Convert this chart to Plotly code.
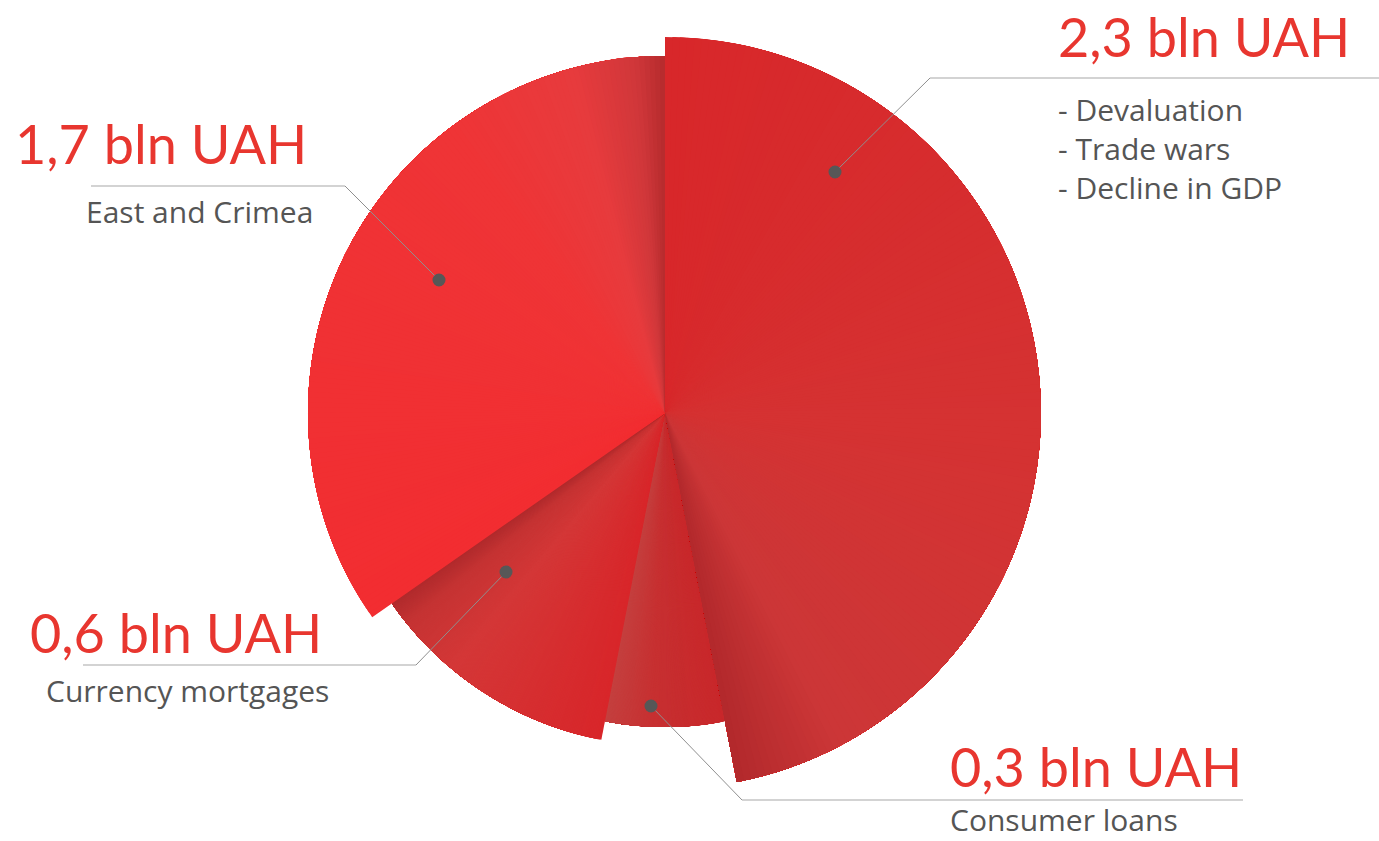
import plotly.graph_objects as go

# Data
values = [2.3, 0.3, 0.6, 1.7]
amount_labels = ["2,3 bln UAH", "0,3 bln UAH", "0,6 bln UAH", "1,7 bln UAH"]
descriptions = [
    "- Devaluation<br>- Trade wars<br>- Decline in GDP",
    "Consumer loans",
    "Currency mortgages",
    "East and Crimea",
]

# Styling (visual radii of slices, colour gradients along each slice's angle)
radii = [376, 314, 333, 357]
gradients = [
    [(0.0, "#d8272a"), (0.55, "#d53232"), (0.9, "#cc3637"), (1.0, "#b2292c")],
    [(0.0, "#c8282b"), (0.6, "#c73031"), (1.0, "#c4403f")],
    [(0.0, "#d8262a"), (0.65, "#d43737"), (0.9, "#c53333"), (1.0, "#b02a2c")],
    [(0.0, "#f22d31"), (0.7, "#ef3436"), (0.88, "#e73b3d"), (0.96, "#d0373a"), (1.0, "#b62b2d")],
]

W, H = 1379, 841
CX, CY, RMAX = 665, 413, 376
NBANDS = 150


def hex2rgb(h):
    h = h.lstrip("#")
    return tuple(int(h[i:i + 2], 16) for i in (0, 2, 4))


def interp(stops, t):
    for (t0, c0), (t1, c1) in zip(stops[:-1], stops[1:]):
        if t <= t1:
            a = 0 if t1 == t0 else (t - t0) / (t1 - t0)
            r0, r1 = hex2rgb(c0), hex2rgb(c1)
            return "rgb(%d,%d,%d)" % tuple(round(r0[k] + (r1[k] - r0[k]) * a) for k in range(3))
    return "rgb(%d,%d,%d)" % hex2rgb(stops[-1][1])


total = sum(values)
starts, widths = [], []
cum = 0.0
for v in values:
    w = v / total * 360
    starts.append(cum)
    widths.append(w)
    cum += w

fig = go.Figure()
# draw order: consumer, big, mortgages, east (east on top)
for i in [1, 0, 2, 3]:
    bw = widths[i] / NBANDS
    # each band starts at its own angle and extends to the slice end, so later
    # bands paint over earlier ones without seams
    thetas, wids, cols = [], [], []
    for k in range(NBANDS):
        a0 = starts[i] + bw * k
        a1 = starts[i] + widths[i]
        thetas.append((a0 + a1) / 2)
        wids.append(a1 - a0)
        cols.append(interp(gradients[i], (k + 0.5) / NBANDS))
    fig.add_trace(go.Barpolar(
        r=[radii[i]] * NBANDS, theta=thetas, width=wids,
        marker=dict(color=cols, line=dict(width=0)),
        hoverinfo="skip", showlegend=False,
    ))


def px(x):
    return x / W


def py(y):
    return 1 - y / H


shapes = []
# leader lines: (dot, corner, end) in pixels
leaders = [
    ((835, 172), (930, 78), (1379, 78)),
    ((651, 706), (742, 800), (1243, 800)),
    ((506, 572), (416, 665), (83, 665)),
    ((439, 280), (345, 186), (91, 186)),
]
for dot, corner, end in leaders:
    shapes.append(dict(type="line", xref="paper", yref="paper",
                       x0=px(dot[0]), y0=py(dot[1]), x1=px(corner[0]), y1=py(corner[1]),
                       line=dict(color="#8f8f8f", width=1)))
    shapes.append(dict(type="line", xref="paper", yref="paper",
                       x0=px(corner[0]), y0=py(corner[1]), x1=px(end[0]), y1=py(end[1]),
                       line=dict(color="#c4c4c4", width=1.5)))
    r = 6.5
    shapes.append(dict(type="circle", xref="paper", yref="paper",
                       x0=px(dot[0] - r), x1=px(dot[0] + r), y0=py(dot[1] + r), y1=py(dot[1] - r),
                       fillcolor="#575757", line=dict(width=0)))

red = "#e8362f"
gray = "#555555"
title_font = dict(family="Lato", size=54, color=red)
desc_font = dict(family="Open Sans", size=30, color=gray)

# label positions (pixel)
title_pos = [(1056, 36), (948, 766), (28, 632), (13, 143)]
desc_pos = [(1056, 148), (948, 819), (44, 690), (84, 212)]
anns = []
for i in range(4):
    anns.append(dict(text=amount_labels[i],
                     x=px(title_pos[i][0]), y=py(title_pos[i][1]), xref="paper", yref="paper",
                     xanchor="left", yanchor="middle", showarrow=False, font=title_font))
    anns.append(dict(text=descriptions[i], x=px(desc_pos[i][0]), y=py(desc_pos[i][1]),
                     xref="paper", yref="paper", xanchor="left", yanchor="middle",
                     showarrow=False, font=desc_font, align="left"))

fig.update_layout(
    width=W, height=H,
    margin=dict(l=0, r=0, t=0, b=0),
    paper_bgcolor="white", plot_bgcolor="white",
    polar=dict(
        domain=dict(x=[(CX - RMAX) / W, (CX + RMAX) / W],
                    y=[(H - CY - RMAX) / H, (H - CY + RMAX) / H]),
        bgcolor="rgba(0,0,0,0)",
        bargap=0,
        barmode="overlay",
        radialaxis=dict(range=[0, RMAX], visible=False, showgrid=False),
        angularaxis=dict(direction="clockwise", rotation=90, visible=False,
                         showgrid=False),
        hole=0,
    ),
    shapes=shapes,
    annotations=anns,
)

fig.write_html("out.html")
